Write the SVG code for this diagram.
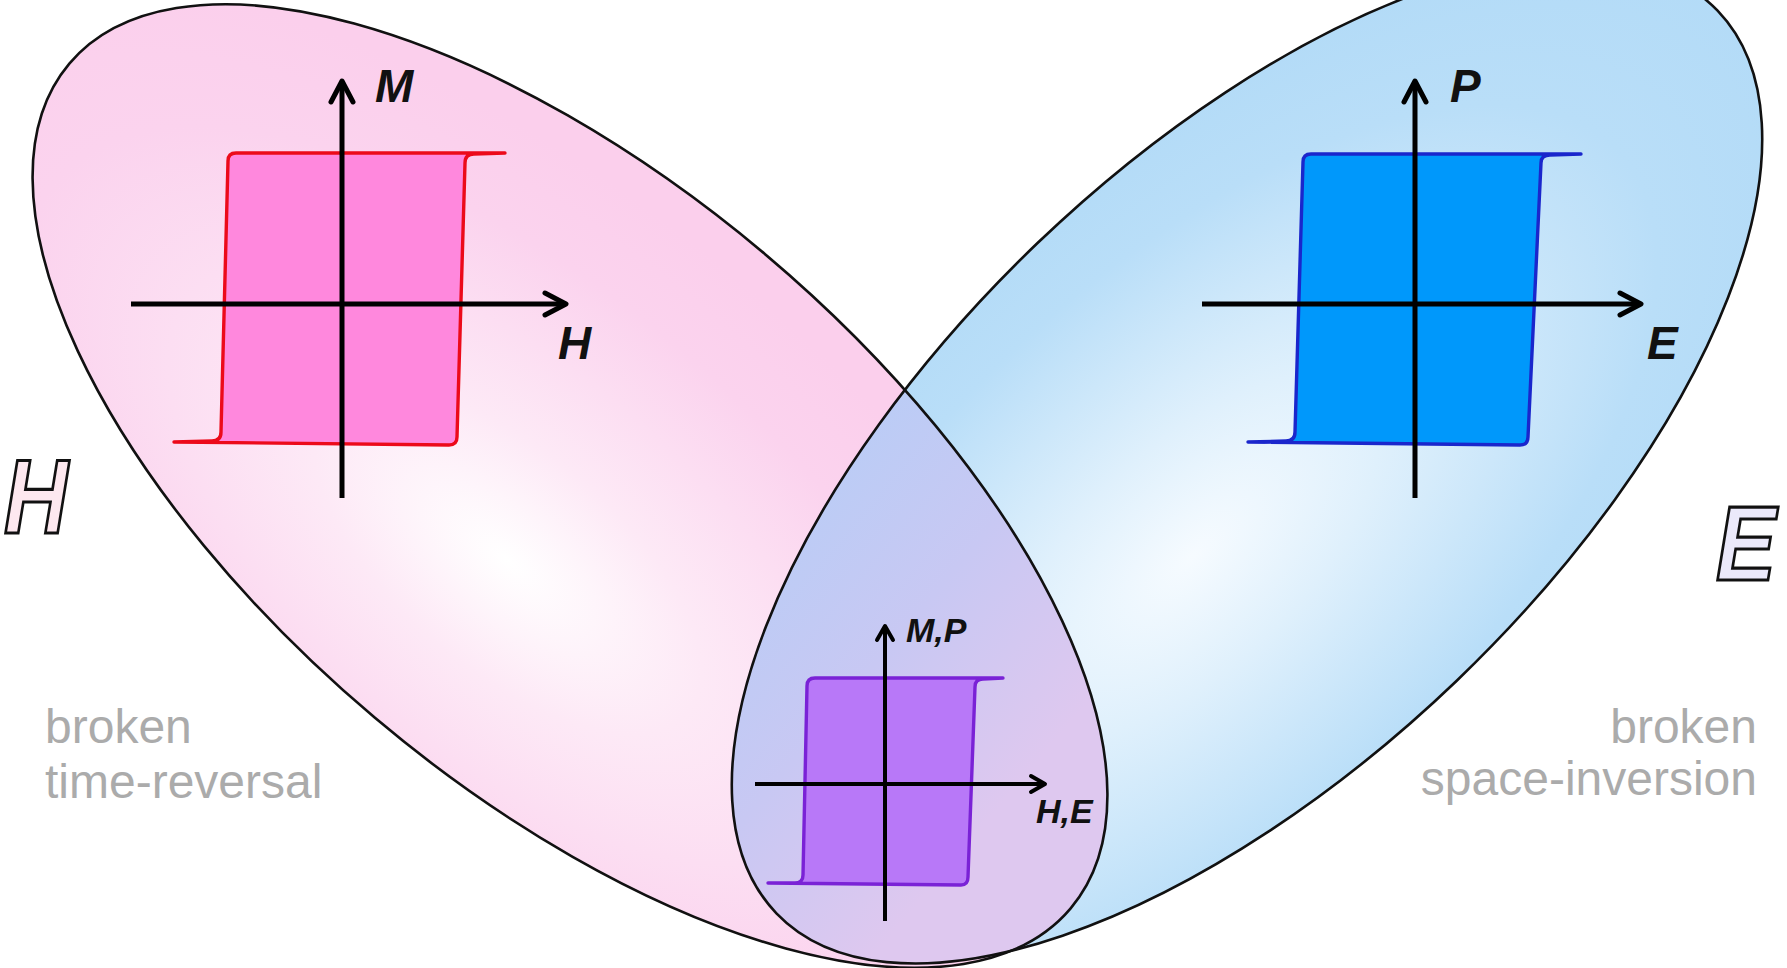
<svg xmlns="http://www.w3.org/2000/svg" width="1787" height="968" viewBox="0 0 1787 968">
<defs>
<style>
.ell{fill:none;stroke:#111;stroke-width:2.6}
.ax{fill:none;stroke:#000;stroke-width:5}
.axs{fill:none;stroke:#000;stroke-width:4}
.lbl{font-family:"Liberation Sans",Arial,sans-serif;font-weight:bold;font-style:italic;fill:#111}
.gray{font-family:"Liberation Sans",Arial,sans-serif;fill:#ababab;font-size:48px}
.big{font-family:"Liberation Sans",Arial,sans-serif;font-weight:bold;font-style:italic;font-size:106px;stroke:#111;stroke-width:3.2}
.loop{stroke-width:3.4;stroke-linejoin:round}
</style>
<radialGradient id="gPink" cx="0.5" cy="0.66" r="0.6">
<stop offset="0" stop-color="#ffffff"/>
<stop offset="0.3" stop-color="#fde9f6"/>
<stop offset="0.75" stop-color="#fbd3ee"/>
<stop offset="1" stop-color="#fbcfec"/>
</radialGradient>
<radialGradient id="gBlue" cx="0.42" cy="0.55" r="0.6">
<stop offset="0" stop-color="#f6fbff"/>
<stop offset="0.3" stop-color="#dff0fc"/>
<stop offset="0.75" stop-color="#b9def8"/>
<stop offset="1" stop-color="#b3dbf7"/>
</radialGradient>
<linearGradient id="gLens" gradientUnits="userSpaceOnUse" x1="730" y1="0" x2="1105" y2="0">
<stop offset="0" stop-color="#b9cdf6"/>
<stop offset="0.5" stop-color="#c8c8f3"/>
<stop offset="1" stop-color="#dec8ef"/>
</linearGradient>
<clipPath id="clipR"><ellipse cx="1247" cy="462" rx="652" ry="303" transform="rotate(-43.8 1247 462)"/></clipPath>
<marker id="ahL" markerUnits="userSpaceOnUse" markerWidth="30" markerHeight="30" viewBox="-26 -15 30 30" refX="0" refY="0" orient="auto">
<path d="M-21,-11 L0,0 L-21,11" fill="none" stroke="#000" stroke-width="5" stroke-linejoin="round" stroke-linecap="round"/>
</marker>
<marker id="ahS" markerUnits="userSpaceOnUse" markerWidth="24" markerHeight="24" viewBox="-20 -12 24 24" refX="0" refY="0" orient="auto">
<path d="M-14,-8 L0,0 L-14,8" fill="none" stroke="#000" stroke-width="4" stroke-linejoin="round" stroke-linecap="round"/>
</marker>
</defs>
<rect width="1787" height="968" fill="#ffffff"/>

<g id="ellipse-H">
<ellipse cx="570" cy="486" rx="655" ry="303" transform="rotate(40.15 570 486)" fill="url(#gPink)"/>
</g>
<g id="ellipse-E">
<ellipse cx="1247" cy="462" rx="652" ry="303" transform="rotate(-43.8 1247 462)" fill="url(#gBlue)"/>
</g>
<g id="overlap" clip-path="url(#clipR)">
<ellipse cx="570" cy="486" rx="655" ry="303" transform="rotate(40.15 570 486)" fill="url(#gLens)"/>
</g>
<g id="outlines">
<ellipse class="ell" cx="570" cy="486" rx="655" ry="303" transform="rotate(40.15 570 486)"/>
<ellipse class="ell" cx="1247" cy="462" rx="652" ry="303" transform="rotate(-43.8 1247 462)"/>
</g>

<g id="loop-M">
<path class="loop" fill="#ff88dd" stroke="#ec0a1a" d="M505,153 L236,153 Q228,153 228,161 L221,432 Q221,441 212,441 L174,442 L449,445 Q457,445 457,437 L465,163 Q465,154 474,154 L505,153 Z"/>
</g>
<g id="loop-P">
<path class="loop" fill="#0098fb" stroke="#1a26cc" d="M1581,154 L1311,154 Q1303,154 1303,162 L1295,432 Q1295,441 1286,441 L1248,442 L1520,445 Q1528,445 1528,437 L1541,163 Q1541,155 1550,155 L1581,154 Z"/>
</g>
<g id="loop-MP">
<path class="loop" fill="#b878f8" stroke="#7a22d6" stroke-width="3" d="M1003,678 L815,678 Q807,678 807,686 L803,875 Q803,883 795,883 L768,883 L961,885 Q968,885 968,877 L975,687 Q975,679 983,679 L1003,678 Z"/>
</g>

<g id="connectors">
<line class="ax" x1="342" y1="498" x2="342" y2="81" marker-end="url(#ahL)"/>
<line class="ax" x1="131" y1="304" x2="566" y2="304" marker-end="url(#ahL)"/>
<line class="ax" x1="1415" y1="498" x2="1415" y2="81" marker-end="url(#ahL)"/>
<line class="ax" x1="1202" y1="304" x2="1641" y2="304" marker-end="url(#ahL)"/>
<line class="axs" x1="885" y1="921" x2="885" y2="626" marker-end="url(#ahS)"/>
<line class="axs" x1="755" y1="784" x2="1045" y2="784" marker-end="url(#ahS)"/>
</g>

<g id="labels">
<text class="lbl" x="375" y="102" font-size="46">M</text>
<text class="lbl" x="558" y="359" font-size="46">H</text>
<text class="lbl" x="1450" y="102" font-size="46">P</text>
<text class="lbl" x="1647" y="359" font-size="46">E</text>
<text class="lbl" x="906" y="642" font-size="34">M,P</text>
<text class="lbl" x="1036" y="823" font-size="34">H,E</text>
</g>

<g id="big-H">
<text class="big" x="4" y="533" fill="#fde8ef" textLength="64" lengthAdjust="spacingAndGlyphs">H</text>
</g>
<g id="big-E">
<text class="big" x="1716" y="580" fill="#ebe9fa" textLength="60" lengthAdjust="spacingAndGlyphs">E</text>
</g>

<g id="text-time">
<text class="gray" x="45" y="743">broken</text>
<text class="gray" x="45" y="798">time-reversal</text>
</g>
<g id="text-space">
<text class="gray" x="1757" y="743" text-anchor="end">broken</text>
<text class="gray" x="1757" y="795" text-anchor="end">space-inversion</text>
</g>
</svg>
